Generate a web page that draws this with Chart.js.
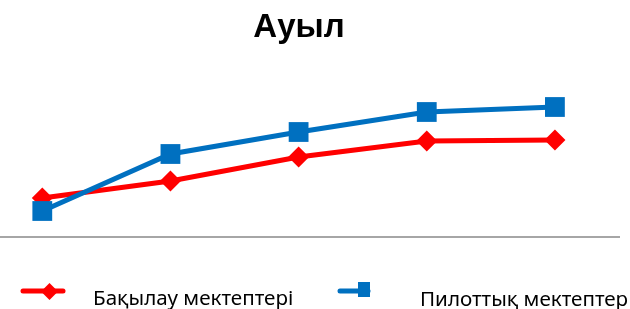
<!DOCTYPE html>
<html>
<head>
<meta charset="utf-8">
<script src="https://cdn.jsdelivr.net/npm/chart.js@4/dist/chart.umd.min.js"></script>
<style>
    body { margin: 0; background: #fff; }
    #wrap { position: relative; width: 630px; height: 309px; overflow: hidden; }
    #chart { position: absolute; left: 0; top: 0; }
    .title { position: absolute; left: 0; top: 9px; width: 598px; text-align: center;
             font: bold 33px "Liberation Sans", Arial, sans-serif; line-height: 33px; color: #000; }
    .leg-text { position: absolute; font: 20.6px "Noto Sans", "Open Sans", sans-serif; line-height: 20px; color: #000; white-space: nowrap; }
    .leg-icon { position: absolute; }
</style>
</head>
<body>
<div id="wrap">
    <canvas id="chart" width="630" height="309"></canvas>
    <div class="title">Ауыл</div>
    <canvas class="leg-icon" id="iconRed" width="50" height="24" style="left:18px;top:279px"></canvas>
    <div class="leg-text" style="left:93px;top:287px">Бақылау мектептері</div>
    <canvas class="leg-icon" id="iconBlue" width="40" height="24" style="left:334px;top:279px"></canvas>
    <div class="leg-text" style="left:420px;top:288px">Пилоттық мектептер</div>
</div>
<script>
// данные
const categories = [0, 1, 2, 3, 4];
const controlSchools = [39, 56, 80, 96, 97];   // Бақылау мектептері
const pilotSchools = [26, 83, 105, 125, 130];  // Пилоттық мектептер

const red = '#ff0000';
const blue = '#0070c0';

function toPoints(values) {
    return categories.map((c, i) => ({ x: c, y: values[i] }));
}

new Chart(document.getElementById('chart').getContext('2d'), {
    type: 'line',
    data: {
        datasets: [{
            label: 'Пилоттық мектептер',
            data: toPoints(pilotSchools),
            borderColor: blue,
            backgroundColor: blue,
            borderWidth: 5,
            pointStyle: 'rect',
            pointRadius: 14,
            pointBorderWidth: 0,
            tension: 0,
            order: 1
        }, {
            label: 'Бақылау мектептері',
            data: toPoints(controlSchools),
            borderColor: red,
            backgroundColor: red,
            borderWidth: 5,
            pointStyle: 'rectRot',
            pointRadius: 10.5,
            pointBorderWidth: 0,
            tension: 0,
            order: 2
        }]
    },
    options: {
        responsive: false,
        animation: false,
        clip: false,
        layout: { autoPadding: false, padding: { top: 77, left: 0, right: 11, bottom: 72 } },
        scales: {
            x: {
                type: 'linear',
                min: -0.33,
                max: 4.5,
                grid: { display: false, drawTicks: false },
                ticks: { display: false },
                border: { display: true, color: '#a6a6a6', width: 2 }
            },
            y: {
                display: false,
                min: 0,
                max: 160
            }
        },
        plugins: {
            legend: { display: false },
            tooltip: { enabled: false }
        }
    }
});

// значки легенды
const cr = document.getElementById('iconRed').getContext('2d');
cr.strokeStyle = red; cr.lineWidth = 5; cr.lineCap = 'round';
cr.beginPath(); cr.moveTo(5, 12); cr.lineTo(45, 12); cr.stroke();
cr.fillStyle = red;
cr.beginPath(); cr.moveTo(31.5, 4); cr.lineTo(40, 12.5); cr.lineTo(31.5, 21); cr.lineTo(23, 12.5); cr.closePath(); cr.fill();

const cb = document.getElementById('iconBlue').getContext('2d');
cb.strokeStyle = blue; cb.lineWidth = 5; cb.lineCap = 'round';
cb.beginPath(); cb.moveTo(6, 12); cb.lineTo(34, 12); cb.stroke();
cb.fillStyle = blue;
cb.fillRect(24, 3, 12, 15);
</script>
</body>
</html>
